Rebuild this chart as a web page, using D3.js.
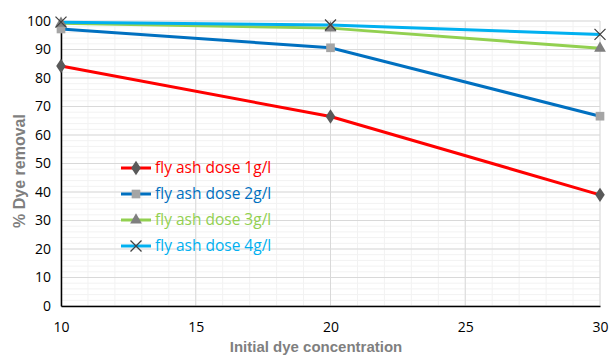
<!DOCTYPE html>
<html>
<head>
<meta charset="utf-8">
<script src="https://cdn.jsdelivr.net/npm/d3@7"></script>
<style>
  body { margin: 0; background: #fff; }
  text { font-family: "Open Sans", "Noto Sans", sans-serif; }
</style>
</head>
<body>
<svg id="chart" width="610" height="357"></svg>
<script>
// data
var concentrations = [10, 20, 30];
var dose1 = [84.2, 66.5, 39];
var dose2 = [97.2, 90.6, 66.6];
var dose3 = [99.2, 97.5, 90.4];
var dose4 = [99.6, 98.6, 95.3];
var seriesNames = ['fly ash dose 1g/l', 'fly ash dose 2g/l', 'fly ash dose 3g/l', 'fly ash dose 4g/l'];
var xTicks = [10, 15, 20, 25, 30];
var yTicks = [0, 10, 20, 30, 40, 50, 60, 70, 80, 90, 100];

var series = [
  {name: seriesNames[0], values: dose1, color: '#ff0000', marker: 'diamond', mcolor: '#595959'},
  {name: seriesNames[1], values: dose2, color: '#0070c0', marker: 'square', mcolor: '#a5a5a5'},
  {name: seriesNames[2], values: dose3, color: '#92d050', marker: 'triangle', mcolor: '#7f7f7f'},
  {name: seriesNames[3], values: dose4, color: '#00b0f0', marker: 'cross', mcolor: '#404040'}
];

var svg = d3.select('#chart');
var margin = {left: 61, right: 10, top: 21, bottom: 51};
var W = 610, H = 357;

var x = d3.scaleLinear().domain([10, 30]).range([margin.left, W - margin.right]);
var y = d3.scaleLinear().domain([0, 100]).range([H - margin.bottom, margin.top]);

// minor grid
var g = svg.append('g');
g.selectAll('.vminor').data(d3.range(10, 31, 1)).enter().append('line')
  .attr('x1', function(d) { return x(d); }).attr('x2', function(d) { return x(d); })
  .attr('y1', y(0)).attr('y2', y(100))
  .attr('stroke', '#f2f2f2').attr('stroke-width', 1);
g.selectAll('.hminor').data(d3.range(0, 101, 2)).enter().append('line')
  .attr('y1', function(d) { return y(d); }).attr('y2', function(d) { return y(d); })
  .attr('x1', x(10)).attr('x2', x(30))
  .attr('stroke', '#f2f2f2').attr('stroke-width', 1);
// major grid
g.selectAll('.vmajor').data(xTicks).enter().append('line')
  .attr('x1', function(d) { return x(d); }).attr('x2', function(d) { return x(d); })
  .attr('y1', y(0)).attr('y2', y(100))
  .attr('stroke', '#d9d9d9').attr('stroke-width', 1);
g.selectAll('.hmajor').data(yTicks).enter().append('line')
  .attr('y1', function(d) { return y(d); }).attr('y2', function(d) { return y(d); })
  .attr('x1', x(10)).attr('x2', x(30))
  .attr('stroke', '#d9d9d9').attr('stroke-width', 1);

// axes
var xAxis = svg.append('g').attr('transform', 'translate(0,' + y(0) + ')')
  .call(d3.axisBottom(x).tickValues(xTicks).tickSize(0).tickPadding(16));
var yAxis = svg.append('g').attr('transform', 'translate(' + x(10) + ',0)')
  .call(d3.axisLeft(y).tickValues(yTicks).tickSize(0).tickPadding(10));
[xAxis, yAxis].forEach(function(a) {
  a.select('.domain').attr('stroke', '#000').attr('stroke-width', 1.5);
  a.selectAll('text').attr('font-size', 14).attr('fill', '#000')
    .style('font-family', '"Open Sans", sans-serif');
});

// axis titles
svg.append('text').attr('x', 316).attr('y', 352).attr('text-anchor', 'middle')
  .attr('font-size', 15).attr('font-weight', 'bold').attr('fill', '#7f7f7f')
  .style('font-family', '"Liberation Sans Narrow", "Liberation Sans", sans-serif')
  .text('Initial dye concentration');
svg.append('text').attr('transform', 'translate(25,171) rotate(-90)')
  .attr('text-anchor', 'middle')
  .attr('font-size', 16).attr('font-weight', 'bold').attr('fill', '#7f7f7f')
  .style('font-family', '"Liberation Sans", sans-serif')
  .text('% Dye removal');

var line = d3.line()
  .x(function(d, i) { return x(concentrations[i]); })
  .y(function(d) { return y(d); });

function drawMarker(sel, type, color, cx, cy) {
  if (type === 'cross') {
    var s = 5.5;
    sel.append('path')
      .attr('d', 'M' + (cx - s) + ',' + (cy - s) + 'L' + (cx + s) + ',' + (cy + s) +
                 'M' + (cx - s) + ',' + (cy + s) + 'L' + (cx + s) + ',' + (cy - s))
      .attr('stroke', color).attr('stroke-width', 1.3).attr('fill', 'none');
    return;
  }
  var sym = type === 'diamond' ? d3.symbolDiamond : type === 'square' ? d3.symbolSquare : d3.symbolTriangle;
  var size = type === 'diamond' ? 60 : type === 'square' ? 75 : 60;
  sel.append('path')
    .attr('d', d3.symbol().type(sym).size(size)())
    .attr('transform', 'translate(' + cx + ',' + cy + ')' + (type === 'diamond' ? ' scale(1.15,1)' : ''))
    .attr('fill', color);
}

series.forEach(function(s) {
  svg.append('path').datum(s.values)
    .attr('d', line)
    .attr('fill', 'none').attr('stroke', s.color).attr('stroke-width', 3);
});
series.forEach(function(s) {
  var mg = svg.append('g');
  s.values.forEach(function(v, i) {
    drawMarker(mg, s.marker, s.mcolor, x(concentrations[i]), y(v));
  });
});

// legend
var legendY = [168, 194, 220, 246];
series.forEach(function(s, i) {
  var lg = svg.append('g');
  lg.append('line').attr('x1', 121).attr('x2', 151)
    .attr('y1', legendY[i]).attr('y2', legendY[i])
    .attr('stroke', s.color).attr('stroke-width', 3);
  drawMarker(lg, s.marker, s.mcolor, 136, legendY[i]);
  lg.append('text').attr('x', 155).attr('y', legendY[i] + 5)
    .attr('font-size', 15.5).attr('fill', s.color)
    .text(s.name);
});
</script>
</body>
</html>
